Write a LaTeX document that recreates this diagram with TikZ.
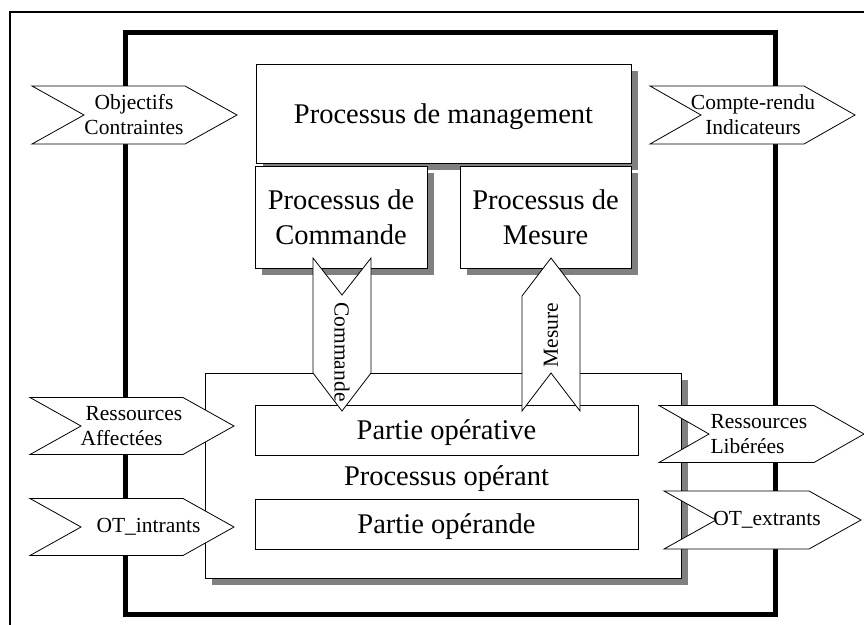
\documentclass[tikz,border=0pt]{standalone}
\usepackage{fontspec}
\setmainfont{Liberation Serif}
\usetikzlibrary{shadows}
% fanion: left x, right x, centre y, half height, point depth
\newcommand{\fanion}[5]{%
  \filldraw[fleche] (#1,{#3-#4}) -- (#2,{#3-#4}) -- ({#2+#5},#3) -- (#2,{#3+#4})
    -- (#1,{#3+#4}) -- ({#1+#5},#3) -- cycle;
}

\begin{document}
\begin{tikzpicture}[x=1pt,y=-1pt,
    boite/.style={draw,fill=white,line width=0.8pt,inner sep=0pt,
      drop shadow={shadow xshift=7pt,shadow yshift=-7pt,fill=gray,opacity=1}},
    plat/.style={draw,fill=white,line width=0.8pt,inner sep=0pt},
    fleche/.style={draw,fill=white,line width=0.8pt},
    grand/.style={font=\fontsize{28.5}{35}\selectfont,align=center,text depth=0pt},
    petit/.style={font=\fontsize{21.5}{25}\selectfont,align=center}]
    \clip (0,0) rectangle (864,624);
    \draw[line width=1.5pt] (10,12) rectangle (900,660);
    \draw[line width=5pt] (125,32) rectangle (775,614);
    % pilotage
    \node[boite,grand,minimum width=375pt,minimum height=99pt] (mgmt) at (443.5,113.5) {Processus de management};
    \node[boite,grand,minimum width=172pt,minimum height=102pt] (cmd) at (341,217) {Processus de\\Commande};
    \node[boite,grand,minimum width=171pt,minimum height=102pt] (mes) at (545.5,217) {Processus de\\Mesure};
    % processus operant
    \node[boite,minimum width=476pt,minimum height=205pt] (operant) at (443,475.5) {};
    \node[plat,grand,minimum width=383pt,minimum height=50pt] (pop) at (446.5,430) {Partie opérative};
    \node[plat,grand,minimum width=383pt,minimum height=50pt] (pod) at (446.5,524) {Partie opérande};
    \node[grand] (lop) at (446.5,476) {Processus opérant};
    % flux internes
    \filldraw[fleche] (313,258) -- (342,295) -- (371,258) -- (371,373) -- (342,411) -- (313,373) -- cycle;
    \node[petit,rotate=-90] (lcmd) at (342,352) {Commande};
    \filldraw[fleche] (522,296) -- (551,258) -- (580,296) -- (580,411) -- (551,373) -- (522,411) -- cycle;
    \node[petit,rotate=90] (lmes) at (551,335) {Mesure};
    % flux externes
    \fanion{32}{185}{115}{29}{52}
    \node[petit] (obj) at (134,115) {Objectifs\\Contraintes};
    \fanion{650}{804}{115}{29}{51}
    \node[petit] (cr) at (753,115) {Compte-rendu\\Indicateurs};
    \fanion{30}{183}{426}{28.5}{51}
    \node[petit,align=left,anchor=west] (raff) at (77,426) {\hspace{5pt}Ressources\\Affectées};
    \fanion{30}{183}{527}{28.5}{51}
    \node[petit] (otin) at (148.5,527) {OT\_intrants};
    \fanion{659}{814}{434}{28.5}{50}
    \node[petit,align=left,anchor=west] (rlib) at (707,434) {Ressources\\Libérées};
    \fanion{664}{809}{520}{29}{52}
    \node[petit] (otex) at (767,520) {OT\_extrants};
\end{tikzpicture}
\end{document}
